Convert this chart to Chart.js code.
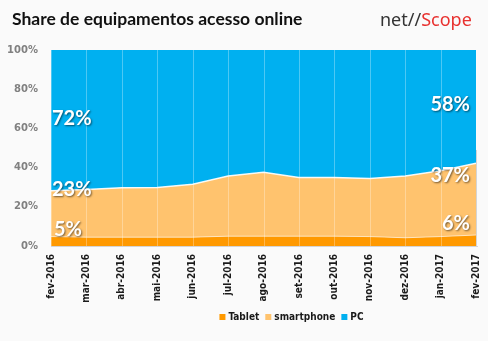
<!DOCTYPE html>
<html lang="pt">
<head>
    <meta charset="UTF-8">
    <title>Share de equipamentos acesso online</title>
    <script src="https://cdn.jsdelivr.net/npm/chart.js"></script>
    <style>
        body {
            margin: 0;
            background-color: #fafafa;
        }
        #wrap {
            width: 488px;
            height: 341px;
        }
    </style>
</head>
<body>
    <div id="wrap">
        <canvas id="shareChart" width="488" height="341"></canvas>
    </div>
    <script>
        const months = ['fev-2016', 'mar-2016', 'abr-2016', 'mai-2016', 'jun-2016', 'jul-2016', 'ago-2016',
            'set-2016', 'out-2016', 'nov-2016', 'dez-2016', 'jan-2017', 'fev-2017'];
        const tablet = [4.8, 4.5, 4.5, 4.5, 4.5, 5.0, 5.0, 5.0, 5.0, 4.8, 4.2, 4.8, 5.6];
        const smartphone = [23.4, 24.3, 25.2, 25.4, 27.0, 30.7, 32.6, 30.0, 29.9, 29.6, 31.5, 33.6, 36.6];
        const pc = [71.8, 71.2, 70.3, 70.1, 68.5, 64.3, 62.4, 65.0, 65.1, 65.6, 64.3, 61.6, 57.8];
        const yTicks = [0, 20, 40, 60, 80, 100];

        const colors = {
            tablet: '#ff9900',
            smartphone: '#ffc36e',
            pc: '#00b0f0'
        };

        // background, title, logo
        const frame = {
            id: 'frame',
            beforeDraw(chart) {
                const ctx = chart.ctx;
                ctx.save();
                ctx.fillStyle = '#fafafa';
                ctx.fillRect(0, 0, chart.width, chart.height);
                ctx.textBaseline = 'alphabetic';
                ctx.textAlign = 'left';
                ctx.fillStyle = '#111';
                ctx.font = 'bold 17.5px Lato';
                ctx.fillText('Share de equipamentos acesso online', 12, 25);
                ctx.font = '18px "Noto Sans"';
                ctx.fillStyle = '#333';
                ctx.fillText('net//', 380, 26);
                const w = ctx.measureText('net//').width;
                ctx.fillStyle = '#e8312f';
                ctx.fillText('Scope', 380 + w, 26);
                ctx.restore();
            }
        };

        // vertical grid over the areas, bottom line, value labels, legend
        const overlay = {
            id: 'overlay',
            afterDatasetsDraw(chart) {
                const ctx = chart.ctx;
                const xs = chart.scales.x;
                const ys = chart.scales.y;
                const area = chart.chartArea;
                ctx.save();
                ctx.strokeStyle = 'rgba(255,255,255,0.3)';
                ctx.lineWidth = 1;
                months.forEach((m, i) => {
                    const x = Math.round(xs.getPixelForValue(i)) + 0.5;
                    ctx.beginPath();
                    ctx.moveTo(x, area.top);
                    ctx.lineTo(x, area.bottom);
                    ctx.stroke();
                });
                ctx.strokeStyle = '#d4d4d4';
                ctx.beginPath();
                ctx.moveTo(area.left, Math.round(area.bottom) + 0.5);
                ctx.lineTo(area.right + 2, Math.round(area.bottom) + 0.5);
                ctx.moveTo(area.right + 0.5, area.top + 100);
                ctx.lineTo(area.right + 0.5, area.bottom);
                ctx.stroke();

                // labels at first and last month
                ctx.font = 'bold 20px Lato';
                ctx.fillStyle = '#fff';
                ctx.textBaseline = 'middle';
                ctx.shadowColor = 'rgba(0,0,0,0.55)';
                ctx.shadowOffsetX = 1;
                ctx.shadowOffsetY = 1;
                ctx.shadowBlur = 2;
                const ends = [0, months.length - 1];
                ends.forEach((i, k) => {
                    const t = tablet[i], s = smartphone[i], p = pc[i];
                    const first = k === 0;
                    const x = first ? area.left + 1 : area.right - 6;
                    ctx.textAlign = first ? 'left' : 'right';
                    const items = [
                        [p, ys.getPixelForValue(t + s + p / 2) - 2],
                        [s, ys.getPixelForValue(t + s) + (first ? -1 : 12)],
                        [t, ys.getPixelForValue(t) - (first ? 7 : 11)]
                    ];
                    items.forEach(([v, y]) => {
                        ctx.fillText(Math.round(v) + '%', first && v === t ? x + 2 : x, y);
                    });
                });
                ctx.restore();

                // legend
                ctx.save();
                ctx.font = 'bold 10px "DejaVu Sans Condensed"';
                ctx.textBaseline = 'middle';
                ctx.textAlign = 'left';
                const items = chart.data.datasets.map(d => [d.label, d.backgroundColor]);
                const gap = 3, box = 6, spacing = 6;
                let total = 0;
                items.forEach(([l]) => total += box + gap + ctx.measureText(l).width + spacing);
                total -= spacing;
                let lx = 291.5 - total / 2;
                const ly = 317;
                items.forEach(([l, c]) => {
                    ctx.fillStyle = c;
                    ctx.fillRect(lx, ly - 3, box, box);
                    lx += box + gap;
                    ctx.fillStyle = '#1a1a1a';
                    ctx.fillText(l, lx, ly);
                    lx += ctx.measureText(l).width + spacing;
                });
                ctx.restore();
            }
        };

        const ctx = document.getElementById('shareChart').getContext('2d');
        new Chart(ctx, {
            type: 'line',
            data: {
                labels: months,
                datasets: [{
                    label: 'Tablet',
                    data: tablet,
                    backgroundColor: colors.tablet,
                    borderColor: 'rgba(255,255,255,0.6)',
                    borderWidth: 1,
                    fill: 'origin'
                }, {
                    label: 'smartphone',
                    data: smartphone,
                    backgroundColor: colors.smartphone,
                    borderColor: 'rgba(255,255,255,0.9)',
                    borderWidth: 1.5,
                    fill: '-1'
                }, {
                    label: 'PC',
                    data: pc,
                    backgroundColor: colors.pc,
                    borderWidth: 0,
                    fill: '-1'
                }]
            },
            options: {
                responsive: false,
                animation: false,
                layout: {
                    padding: { top: 50, right: 12, bottom: 35, left: 0 }
                },
                elements: {
                    point: { radius: 0 },
                    line: { tension: 0 }
                },
                plugins: {
                    legend: { display: false },
                    tooltip: { enabled: false }
                },
                scales: {
                    x: {
                        grid: { display: false, drawTicks: false },
                        border: { display: false },
                        afterFit(scale) {
                            scale.height = 60;
                            scale.paddingLeft = 0;
                            scale.paddingRight = 0;
                        },
                        ticks: {
                            autoSkip: false,
                            minRotation: 90,
                            maxRotation: 90,
                            padding: 8,
                            color: '#1a1a1a',
                            font: { family: 'DejaVu Sans Condensed', size: 10, weight: 'bold' }
                        }
                    },
                    y: {
                        stacked: true,
                        min: 0,
                        max: 100,
                        grid: { display: false, drawTicks: false },
                        border: { display: false },
                        afterFit(scale) { scale.width = 51; },
                        afterBuildTicks(scale) {
                            scale.ticks = yTicks.map(v => ({ value: v }));
                        },
                        ticks: {
                            padding: 13,
                            color: '#808080',
                            font: { family: 'DejaVu Sans', size: 10, weight: 'bold' },
                            callback: v => v + '%'
                        }
                    }
                }
            },
            plugins: [frame, overlay]
        });
    </script>
</body>
</html>
